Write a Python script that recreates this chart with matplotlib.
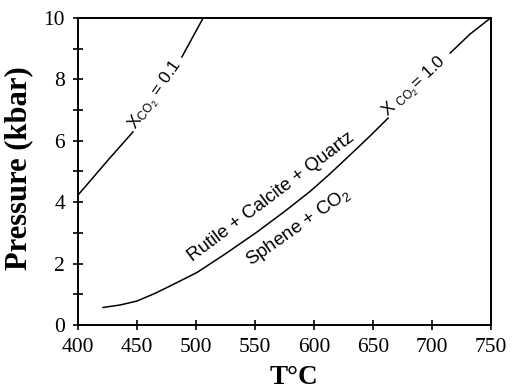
import numpy as np
import matplotlib
matplotlib.use("Agg")
import matplotlib.pyplot as plt
from matplotlib.ticker import MultipleLocator

# NOTE: curve data (T in degC, P in kbar), nan = label gap
t_x01 = [400, 427, 446.6, np.nan, 488, 506]
p_x01 = [4.23, 5.44, 6.29, np.nan, 8.73, 10.0]

t_x10 = [421.2, 435.6, 450, 465.3, 478, 500.8, 524.6, 551.7, 575.4, 596.6,
         613.6, 630.5, 647.5, 662.7, np.nan, 715.3, 732.2, 749.5]
p_x10 = [0.57, 0.65, 0.78, 1.03, 1.27, 1.71, 2.31, 3.03, 3.71, 4.35,
         4.93, 5.54, 6.16, 6.74, np.nan, 8.86, 9.48, 10.0]

x_ticks = [400, 450, 500, 550, 600, 650, 700, 750]
y_ticks = [0, 2, 4, 6, 8, 10]

plt.rcParams["mathtext.fontset"] = "custom"
plt.rcParams["mathtext.rm"] = "Liberation Sans"
plt.rcParams["mathtext.it"] = "Liberation Sans:italic"

serif = "Liberation Serif"
sans = "Liberation Sans"

fig = plt.figure(figsize=(5.12, 3.92), dpi=100)
ax = fig.add_axes([0.1523, 0.171, 0.807, 0.783])

ax.plot(t_x01, p_x01, color="black", lw=1.1)
ax.plot(t_x10, p_x10, color="black", lw=1.1)

ax.set_xlim(400, 750)
ax.set_ylim(0, 10)
ax.set_xticks(x_ticks)
ax.set_yticks(y_ticks)
ax.yaxis.set_minor_locator(MultipleLocator(1))

for sp in ax.spines.values():
    sp.set_linewidth(1.4)

ax.tick_params(which="both", direction="inout", length=6.5, width=1.2,
               top=False, right=False, pad=6)
for lab in ax.get_xticklabels() + ax.get_yticklabels():
    lab.set_fontfamily(serif)
    lab.set_fontsize(15.5)

ax.set_xlabel("T°C", fontfamily=serif, fontweight="bold", fontsize=19.5)
ax.set_ylabel("Pressure (kbar)", fontfamily=serif, fontweight="bold", fontsize=22)
ax.xaxis.set_label_coords(0.522, -0.13)
ax.yaxis.set_label_coords(-0.109, 0.511)

# labels on curves
ax.text(466, 7.49, r"X$_{\rm CO_2}$ = 0.1", fontfamily=sans, fontsize=12.5,
        rotation=55, ha="center", va="center")
ax.text(684.7, 7.75, r"X $_{\rm CO_2}$= 1.0", fontfamily=sans, fontsize=12.5,
        rotation=43, ha="center", va="center")
ax.text(563.6, 4.17, "Rutile + Calcite + Quartz", fontfamily=sans, fontsize=13.5,
        rotation=37, ha="center", va="center")
ax.text(586.4, 3.19, r"Sphene + CO$_2$", fontfamily=sans, fontsize=13.5,
        rotation=35, ha="center", va="center")

fig.savefig("out.png", dpi=100)
